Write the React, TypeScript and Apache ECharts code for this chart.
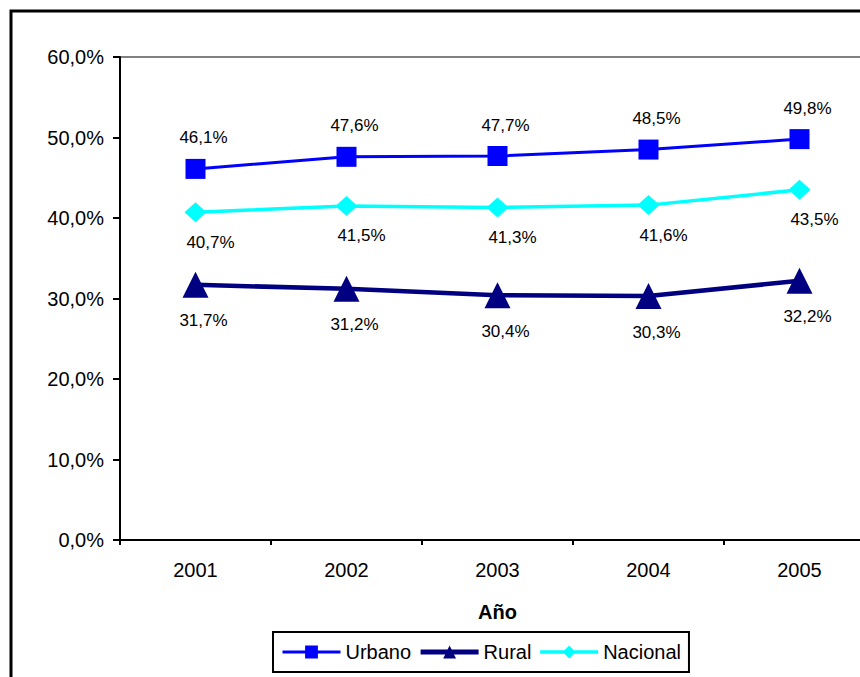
import React, { useEffect, useRef } from "react";
import * as echarts from "echarts";

const years = ["2001", "2002", "2003", "2004", "2005"];
const urbano = [46.1, 47.6, 47.7, 48.5, 49.8];
const rural = [31.7, 31.2, 30.4, 30.3, 32.2];
const nacional = [40.7, 41.5, 41.3, 41.6, 43.5];

const FONT = "'Liberation Sans', Arial, sans-serif";
const fmt = (v: number) => v.toFixed(1).replace(".", ",") + "%";

export default function App() {
  const ref = useRef<HTMLDivElement>(null);
  useEffect(() => {
    if (!ref.current) return;
    const chart = echarts.init(ref.current, null, { renderer: "svg" });
    const labelBase = {
      show: true,
      position: "inside" as const,
      color: "#000",
      fontSize: 17,
      fontFamily: FONT,
      formatter: (p: any) => fmt(p.value),
    };
    chart.setOption({
      animation: false,
      backgroundColor: "#fff",
      textStyle: { fontFamily: FONT },
      graphic: [
        {
          type: "rect",
          shape: { x: 11, y: 11, width: 950, height: 800 },
          style: { fill: "none", stroke: "#000", lineWidth: 3 },
          z: 100,
          silent: true,
        },
      ],
      grid: {
        left: 120,
        top: 57,
        width: 755,
        height: 483,
        outerBoundsMode: "none",
        containLabel: false,
        show: true,
        borderColor: "#808080",
        borderWidth: 2,
        backgroundColor: "transparent",
      },
      legend: {
        left: 273,
        top: 632,
        itemWidth: 58,
        itemHeight: 16,
        itemGap: 7,
        padding: [10, 8],
        borderColor: "#000",
        borderWidth: 2,
        backgroundColor: "#fff",
        textStyle: { fontSize: 20, color: "#000", fontFamily: FONT },
        data: [
          { name: "Urbano", lineStyle: { width: 3 } },
          { name: "Rural", lineStyle: { width: 5 } },
          { name: "Nacional", lineStyle: { width: 3.5 } },
        ],
      },
      xAxis: {
        type: "category",
        data: years,
        boundaryGap: true,
        name: "Año",
        nameLocation: "middle",
        nameGap: 62,
        nameTextStyle: { fontSize: 20, fontWeight: "bold", color: "#000", fontFamily: FONT },
        axisLine: { lineStyle: { color: "#000", width: 2 } },
        axisTick: { show: true, length: 5, lineStyle: { color: "#000", width: 2 } },
        axisLabel: { fontSize: 20, color: "#000", margin: 20, fontFamily: FONT },
        splitLine: { show: false },
      },
      yAxis: {
        type: "value",
        min: 0,
        max: 60,
        interval: 10,
        axisLine: { show: true, lineStyle: { color: "#000", width: 2 } },
        axisTick: { show: true, length: 7, lineStyle: { color: "#000", width: 2 } },
        axisLabel: { fontSize: 20, color: "#000", margin: 16, fontFamily: FONT, formatter: (v: number) => fmt(v) },
        splitLine: { show: false },
      },
      series: [
        {
          name: "Urbano",
          type: "line",
          data: urbano,
          color: "#0000FF",
          symbol: "rect",
          symbolSize: 20,
          lineStyle: { width: 3, color: "#0000FF" },
          itemStyle: { color: "#0000FF" },
          label: { ...labelBase, offset: [8, -31] },
          z: 3,
        },
        {
          name: "Rural",
          type: "line",
          data: rural,
          color: "#000080",
          symbol: "triangle",
          symbolSize: 26,
          lineStyle: { width: 4.5, color: "#000080" },
          itemStyle: { color: "#000080" },
          label: { ...labelBase, offset: [8, 36] },
          z: 2,
        },
        {
          name: "Nacional",
          type: "line",
          data: nacional,
          color: "#00FFFF",
          symbol: "diamond",
          symbolSize: [22, 20],
          lineStyle: { width: 3.5, color: "#00FFFF" },
          itemStyle: { color: "#00FFFF" },
          label: { ...labelBase, offset: [15, 30] },
          z: 2,
        },
      ],
    });
    return () => chart.dispose();
  }, []);
  return (
    <div
      ref={ref}
      style={{ position: "absolute", left: 0, top: 0, width: 860, height: 677, overflow: "hidden" }}
    />
  );
}
